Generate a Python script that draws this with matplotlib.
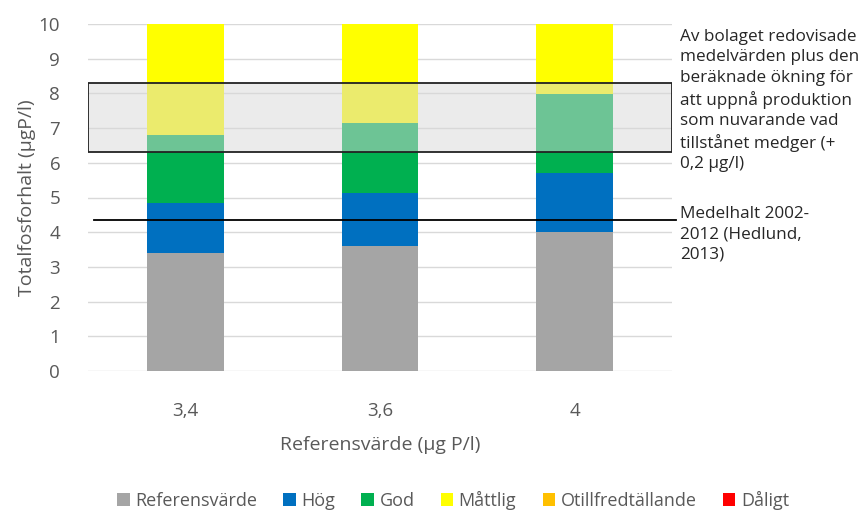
import numpy as np
import matplotlib
matplotlib.use("Agg")
from matplotlib import pyplot as plt
from matplotlib.patches import Rectangle, Patch

plt.rcParams['font.family'] = ['Open Sans', 'DejaVu Sans']

# data
categories = ["3,4", "3,6", "4"]
referens = [3.4, 3.6, 4.0]
hog = [1.45, 1.52, 1.7]
god = [1.95, 2.03, 2.27]
mattlig = [3.2, 2.85, 2.03]
otillfred = [0, 0, 0]
daligt = [0, 0, 0]

series_names = ["Referensvärde", "Hög", "God", "Måttlig", "Otillfredtällande", "Dåligt"]
series_colors = ["#A5A5A5", "#0070C0", "#00B050", "#FFFF00", "#FFC000", "#FF0000"]

band_low, band_high = 6.32, 8.3       # grey band (bolagets medelvärden + 0,2)
medelhalt = 4.35                       # Medelhalt 2002-2012

text_col = "#595959"

fig = plt.figure(figsize=(8.64, 5.12), dpi=100)
ax = fig.add_axes([88/864, 1 - 371/512, (672-88)/864, (371-24)/512])

x = np.arange(len(categories))
bottom = np.zeros(len(categories))
for vals, name, col in zip([referens, hog, god, mattlig, otillfred, daligt], series_names, series_colors):
  ax.bar(x, vals, width=0.395, bottom=bottom, color=col, label=name, zorder=2)
  bottom += np.array(vals)

ax.set_xlim(-0.5, 2.5)
ax.set_ylim(0, 10)
ax.set_yticks(range(0, 11))
ax.set_xticks(x)
ax.set_xticklabels(categories)
ax.yaxis.grid(True, color="#D9D9D9", linewidth=1, zorder=0)
ax.set_axisbelow(True)
for s in ax.spines.values():
  s.set_visible(False)
ax.tick_params(axis="both", length=0, colors=text_col, labelsize=13.5)
ax.tick_params(axis="x", pad=22)
ax.tick_params(axis="y", pad=20)

# grey band
rect = Rectangle((-0.5, band_low), 3.0, band_high - band_low, facecolor=(216/255, 216/255, 216/255),
                 alpha=0.51, edgecolor="none", zorder=3)
ax.add_patch(rect)
rect2 = Rectangle((-0.5, band_low), 3.0, band_high - band_low, facecolor="none",
                  edgecolor="#222222", linewidth=1.3, zorder=4)
ax.add_patch(rect2)

# mean line
ax.plot([-0.47, 2.52], [medelhalt, medelhalt], color="black", linewidth=1.3, zorder=4, clip_on=False)

ax.set_ylabel("Totalfosforhalt (µgP/l)", color=text_col, fontsize=14, labelpad=2)
ax.set_xlabel("Referensvärde (µg P/l)", color=text_col, fontsize=14, labelpad=12)

fig.text(680/864, 1 - 29/512,
         "Av bolaget redovisade\nmedelvärden plus den\nberäknade ökning för\natt uppnå produktion\n"
         "som nuvarande vad\ntillstånet medger (+\n0,2 µg/l)",
         ha="left", va="top", fontsize=12.3, color="#262626", linespacing=1.36)
fig.text(680/864, 1 - 206/512, "Medelhalt 2002-\n2012 (Hedlund,\n2013)",
         ha="left", va="top", fontsize=12.3, color="#262626", linespacing=1.36)

handles = [Patch(facecolor=c, label=n) for n, c in zip(series_names, series_colors)]
fig.legend(handles=handles, loc="center", bbox_to_anchor=(453/864, 1 - 500/512), ncol=6,
           frameon=False, fontsize=13, labelcolor=text_col, handlelength=0.7, handleheight=0.7,
           handletextpad=0.3, columnspacing=1.45)

fig.savefig("out.png", dpi=100)
